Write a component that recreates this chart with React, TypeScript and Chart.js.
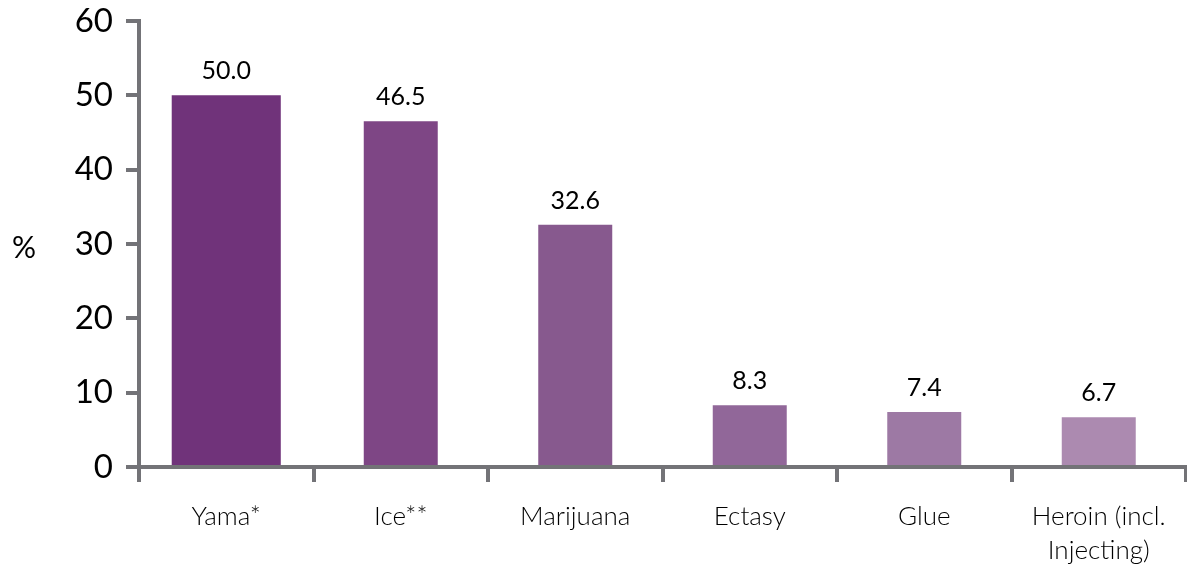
import React, { useEffect, useRef } from "react";
import { Chart, registerables } from "chart.js";

Chart.register(...registerables);

const categories: (string | string[])[] = [
  "Yama*",
  "Ice**",
  "Marijuana",
  "Ectasy",
  "Glue",
  ["Heroin (incl.", "Injecting)"],
];
const values: number[] = [50.0, 46.5, 32.6, 8.3, 7.4, 6.7];
const barColors: string[] = ["#70337a", "#7e4685", "#87598e", "#916799", "#9d79a4", "#ac8ab0"];
const yTicks: number[] = [0, 10, 20, 30, 40, 50, 60];
const yAxisTitle = "%";

const AXIS = "#737377";
const FONT = "Lato, 'Open Sans', sans-serif";

export default function App() {
  const ref = useRef<HTMLCanvasElement | null>(null);

  useEffect(() => {
    document.body.style.margin = "0";
    const canvas = ref.current;
    if (!canvas) return;

    const labelPlugin = {
      id: "valueLabels",
      afterDatasetsDraw(chart: any) {
        const ctx = chart.ctx;
        ctx.save();
        ctx.fillStyle = "#000";
        ctx.font = `25px ${FONT}`;
        ctx.textAlign = "center";
        ctx.textBaseline = "alphabetic";
        chart.data.datasets.forEach((ds: any, di: number) => {
          const meta = chart.getDatasetMeta(di);
          meta.data.forEach((el: any, i: number) => {
            const v = ds.data[i];
            if (v === null || v === undefined) return;
            ctx.fillText(v.toFixed(1), el.x, el.y - 16);
          });
        });
        // y axis title, horizontal
        const ca = chart.chartArea;
        ctx.font = `30px ${FONT}`;
        ctx.textBaseline = "middle";
        ctx.fillText(yAxisTitle, 24, (ca.top + ca.bottom) / 2 + 4);
        ctx.restore();
      },
    };

    const chart = new Chart(canvas, {
      type: "bar",
      data: {
        labels: categories,
        datasets: [
          {
            data: values.map((v, i) => (i === 0 ? v : null)),
            backgroundColor: barColors,
            barPercentage: 0.625,
            categoryPercentage: 1,
            grouped: false,
          },
          {
            data: values.map((v, i) => (i === 0 ? null : v)),
            backgroundColor: barColors,
            barPercentage: 0.424,
            categoryPercentage: 1,
            grouped: false,
          },
        ] as any,
      },
      options: {
        animation: false,
        responsive: false,
        maintainAspectRatio: false,
        layout: { padding: { top: 21, right: 1, left: 0, bottom: 0 } },
        plugins: {
          legend: { display: false },
          tooltip: { enabled: false },
        },
        scales: {
          x: {
            grid: {
              display: true,
              drawOnChartArea: false,
              drawTicks: true,
              tickLength: 15,
              color: AXIS,
              lineWidth: 4,
              offset: true,
            },
            border: { display: true, color: AXIS, width: 4 },
            ticks: {
              color: "#000",
              font: { family: FONT, size: 26, weight: 300, lineHeight: 1.3 },
              padding: 18,
              maxRotation: 0,
              autoSkip: false,
            },
            afterFit: (s: any) => {
              s.height = 101;
              s.paddingLeft = 0;
              s.paddingRight = 0;
            },
          },
          y: {
            min: 0,
            max: 60,
            afterBuildTicks: (s: any) => {
              s.ticks = yTicks.map((v) => ({ value: v }));
            },
            grid: {
              display: true,
              drawOnChartArea: false,
              drawTicks: true,
              tickLength: 13,
              color: AXIS,
              lineWidth: 4,
            },
            border: { display: true, color: AXIS, width: 4 },
            ticks: {
              color: "#000",
              font: { family: FONT, size: 33 },
              padding: 13,
            },
            afterFit: (s: any) => {
              s.width = 139;
              s.paddingTop = 0;
              s.paddingBottom = 0;
            },
          },
        },
      },
      plugins: [labelPlugin],
    });

    return () => chart.destroy();
  }, []);

  return (
    <div style={{ width: 1187, height: 568 }}>
      <canvas ref={ref} width={1187} height={568} style={{ display: "block" }} />
    </div>
  );
}
